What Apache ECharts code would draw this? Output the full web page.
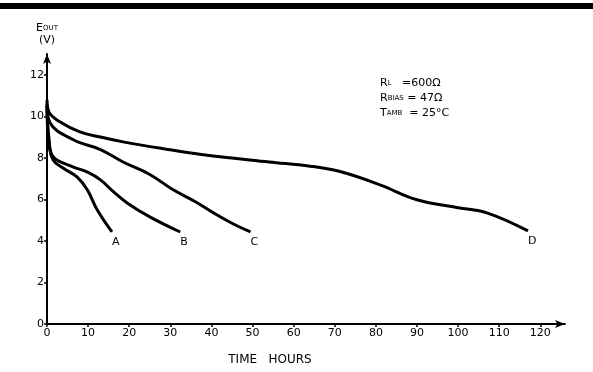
<!DOCTYPE html>
<html>
<head>
<meta charset="utf-8">
<script src="https://cdn.jsdelivr.net/npm/echarts@6/dist/echarts.min.js"></script>
<style>
    html, body { margin: 0; padding: 0; background: #fff; }
    #chart { width: 593px; height: 372px; }
</style>
</head>
<body>
<div id="chart"></div>
<script>
// time (hours), E out (V)
var curveA = [[0, 10.5], [0.4, 8.8], [1.5, 7.9], [4, 7.5], [7.3, 7.08], [9.8, 6.46], [12.2, 5.5], [15.8, 4.43]];
var curveB = [[0, 10.5], [0.5, 8.9], [1.5, 8.05], [6.3, 7.57], [10, 7.3], [13, 6.94], [16, 6.4], [19.5, 5.83], [25, 5.16], [32.4, 4.43]];
var curveC = [[0, 10.6], [0.7, 9.7], [6.4, 8.87], [13, 8.4], [18.5, 7.8], [25, 7.2], [30.7, 6.46], [36, 5.9], [40.5, 5.35], [45, 4.85], [49.5, 4.43]];
var curveD = [[0, 10.8], [0.5, 10.2], [3, 9.75], [8, 9.25], [13, 9.0], [18.5, 8.77], [28, 8.45], [38, 8.15], [54, 7.8], [64, 7.6], [71.5, 7.33], [81, 6.7], [90, 5.98], [100, 5.6], [107, 5.35], [117, 4.48]];
var curveNames = ['A', 'B', 'C', 'D'];
var notes = ['R{s|L}   =600\u03a9', 'R{s|BIAS} = 47\u03a9', 'T{s|AMB}  = 25\u00b0C'];

var chart = echarts.init(document.getElementById('chart'));
var font = 'DejaVu Sans';

var series = [curveA, curveB, curveC, curveD].map(function (d, i) {
    return {
        name: curveNames[i],
        type: 'line',
        data: d,
        smooth: 0.4,
        showSymbol: false,
        lineStyle: {color: '#000', width: 3},
        endLabel: {
            show: true,
            formatter: '{a}',
            color: '#000',
            fontFamily: font,
            fontSize: 11,
            distance: 0,
            offset: [0, 10]
        },
        silent: true
    };
});

var option = {
    backgroundColor: '#fff',
    animation: false,
    grid: {left: 47, right: 28, top: 54, bottom: 48},
    xAxis: {
        type: 'value',
        min: 0,
        max: 126,
        interval: 10,
        name: 'TIME   HOURS',
        nameLocation: 'middle',
        nameGap: 30,
        nameTextStyle: {color: '#000', fontFamily: font, fontSize: 12, padding: [0, 72, 0, 0]},
        axisLine: {lineStyle: {color: '#000', width: 2}, symbol: ['none', 'arrow'], symbolSize: [6, 10]},
        axisTick: {show: true, length: 3, lineStyle: {color: '#000', width: 1.5}},
        axisLabel: {color: '#000', fontFamily: font, fontSize: 11, margin: 4, showMaxLabel: false},
        splitLine: {show: false}
    },
    yAxis: {
        type: 'value',
        min: 0,
        max: 13,
        interval: 2,
        name: 'E{s|OUT}\n(V)',
        nameLocation: 'end',
        nameGap: 8,
        nameTextStyle: {
            color: '#000', fontFamily: font, fontSize: 11, align: 'center', lineHeight: 12,
            rich: {s: {fontSize: 7, fontFamily: font, color: '#000'}}
        },
        axisLine: {lineStyle: {color: '#000', width: 2}, symbol: ['none', 'arrow'], symbolSize: [6, 10]},
        axisTick: {show: true, length: 3, lineStyle: {color: '#000', width: 1.5}},
        axisLabel: {color: '#000', fontFamily: font, fontSize: 11, margin: 3, showMaxLabel: false},
        splitLine: {show: false}
    },
    graphic: [
        {type: 'rect', left: 0, top: 3, shape: {width: 593, height: 6}, style: {fill: '#000'}},
        {
            type: 'text', left: 380, top: 76,
            style: {
                text: notes.join('\n'), fill: '#000', font: '11px "' + font + '"', lineHeight: 15,
                rich: {s: {fontSize: 7, fontFamily: font, fill: '#000'}}
            }
        }
    ],
    series: series
};
chart.setOption(option);
</script>
</body>
</html>
